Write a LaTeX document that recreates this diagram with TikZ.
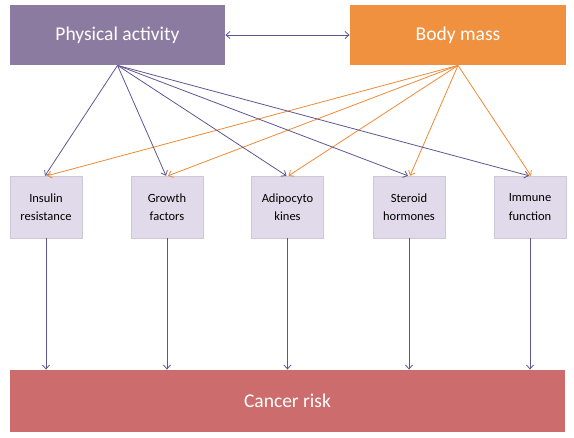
\documentclass[tikz,border=0pt]{standalone}
\usepackage{fontspec}
\setmainfont{Carlito}
\usetikzlibrary{arrows.meta,positioning}
\definecolor{pacol}{HTML}{8C7BA1}
\definecolor{bmcol}{HTML}{F0913F}
\definecolor{crcol}{HTML}{CC6C6C}
\definecolor{midcol}{HTML}{E1DAEA}
\definecolor{palink}{HTML}{5F5591}
\definecolor{bmlink}{HTML}{F08A36}
\tikzset{
	topbox/.style={minimum width=215pt, minimum height=60pt, text=white, font=\fontsize{19.5}{22}\selectfont},
	midbox/.style={fill=midcol, draw=midcol!80!gray, line width=0.4pt, minimum width=72pt, minimum height=62pt, align=center, font=\fontsize{12.5}{18.5}\selectfont},
}
\begin{document}
\begin{tikzpicture}[x=1pt, y=-1pt, >={Straight Barb[length=4pt,width=7pt]}, line width=0.8pt]
						\useasboundingbox (0,0) rectangle (574,438);

						\node[topbox, fill=pacol] (pa) at (117.5,35) {Physical activity};
						\node[topbox, fill=bmcol, minimum width=216pt] (bm) at (458,35) {Body mass};

						\node[midbox] (ir) at (46,207) {Insulin\\resistance};
						\node[midbox] (gf) at (167,207) {Growth\\factors};
						\node[midbox] (ak) at (287.5,207) {Adipocyto\\kines};
						\node[midbox] (sh) at (409,207) {Steroid\\hormones};
						\node[midbox] (im) at (530,207) {Immune\\function};

						\node[fill=crcol, minimum width=555pt, minimum height=62pt,
							text=white, font=\fontsize{19.5}{22}\selectfont] (cr) at (287.5,401) {Cancer risk};

						\draw[<->, palink] (pa) to (bm);

						\foreach \m in {ir,gf,ak,sh,im}{
							\draw[->, palink] (pa.south) to ([xshift=-1pt]\m.north);
							\draw[->, bmlink] (bm.south) to ([xshift=1pt]\m.north);
							\draw[->, palink] (\m.south) to (\m.south |- cr.north);
						}

					\end{tikzpicture}
\end{document}
